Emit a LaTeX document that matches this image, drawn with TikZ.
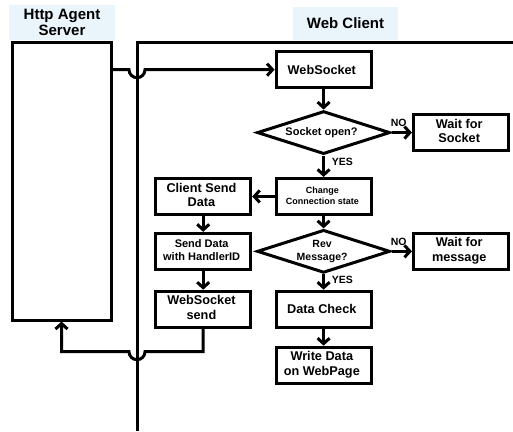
\documentclass[tikz,border=0pt]{standalone}
\usepackage{fontspec}
\setmainfont{Liberation Sans}
\usepackage{tikz}
\usetikzlibrary{arrows.meta,matrix,shapes.geometric,calc}
\definecolor{headbg}{HTML}{EAF4FB}
\newcommand{\twol}[2]{\begin{tabular}{@{}c@{}}#1\\#2\end{tabular}}

\begin{document}
\begin{tikzpicture}[x=1pt,y=1pt,
  box/.style={draw,line width=3pt,minimum width=95pt,minimum height=36pt,inner sep=1pt,align=center,font=\bfseries\fontsize{12.7}{14.5}\selectfont},
  small/.style={font=\bfseries\fontsize{9}{11}\selectfont},
  mid/.style={font=\bfseries\fontsize{11}{13}\selectfont},
  dec/.style={diamond,draw,line width=3pt,minimum width=133pt,minimum height=43pt,aspect=3,inner sep=0pt,align=center,font=\bfseries\fontsize{10.5}{12.5}\selectfont},
  flow/.style={line width=3pt,-{Straight Barb[length=5.5pt,width=12pt]}},
  lbl/.style={font=\bfseries\fontsize{10.5}{12}\selectfont,inner sep=0pt},
  head/.style={fill=headbg,align=center,font=\bfseries\fontsize{15}{16.5}\selectfont}]
\useasboundingbox (0,0) rectangle (513,431);

% swimlane heads
\node[head,minimum width=106pt,minimum height=35pt] (srvHead) at (62,408.5) {Http Agent\\Server};
\node[head,minimum width=105pt,minimum height=33pt] (cltHead) at (345.5,407.5) {Web Client};

\node[draw,line width=3pt,minimum width=99pt,minimum height=277pt] (srv) at (61.5,249.5) {};
\coordinate (laneR) at (513,388);
\coordinate (laneB) at (137,0);
\draw[line width=3pt] (laneR) -| (laneB);

\matrix (m) [matrix of nodes,column sep=4pt,row sep=0pt,anchor=north west,inner sep=0pt,
  nodes={anchor=center}] at (154,381) {
 & |[box]| WebSocket &[17pt] \\[21pt]
 & |[dec,font=\bfseries\fontsize{11}{13}\selectfont]| Socket open? & |[box]| \twol{Wait for}{Socket} \\[22pt]
 |[box]| \twol{Client Send}{Data} & |[box,small]| \twol{Change}{Connection state} & \\[13pt]
 |[box,mid]| \twol{Send Data}{with HandlerID} & |[dec]| \twol{Rev}{Message?} & |[box]| \twol{Wait for}{message} \\[16pt]
 |[box]| \twol{WebSocket}{send} & |[box]| Data Check & \\[17pt]
 & |[box]| \twol{Write Data}{on WebPage} & \\
};

\draw[flow] (srv.east |- m-1-2.west) -- ($(laneB |- m-1-2.west)+(-8,0)$) arc[start angle=180,end angle=360,radius=8] -- (m-1-2.west);
\draw[flow] (m-1-2) -- (m-2-2);
\draw[flow] (m-2-2.east) -- (m-2-3);
\draw[flow] (m-2-2) -- (m-3-2);
\draw[flow] (m-3-2) -- (m-3-1);
\draw[flow] (m-3-1) -- (m-4-1);
\draw[flow] (m-4-1) -- (m-5-1);
\draw[flow] (m-3-2) -- (m-4-2);
\draw[flow] (m-4-2.east) -- (m-4-3);
\draw[flow] (m-4-2) -- (m-5-2);
\draw[flow] (m-5-2) -- (m-6-2);
\coordinate (ret) at ($(m-5-1.south)+(0,-23)$);
\draw[flow] (m-5-1.south) -- (ret) -- ($(laneB |- ret)+(8,0)$) arc[start angle=0,end angle=-180,radius=8] -- (srv.south |- ret) -- (srv.south);

\node[lbl,anchor=south west] at ($(m-2-2.east)+(-1,6)$) {NO};
\node[lbl,anchor=north west] at ($(m-2-2.south)+(8,-2)$) {YES};
\node[lbl,anchor=south west] at ($(m-4-2.east)+(-1,6)$) {NO};
\node[lbl,anchor=north west] at ($(m-4-2.south)+(8,-2)$) {YES};
\end{tikzpicture}
\end{document}
